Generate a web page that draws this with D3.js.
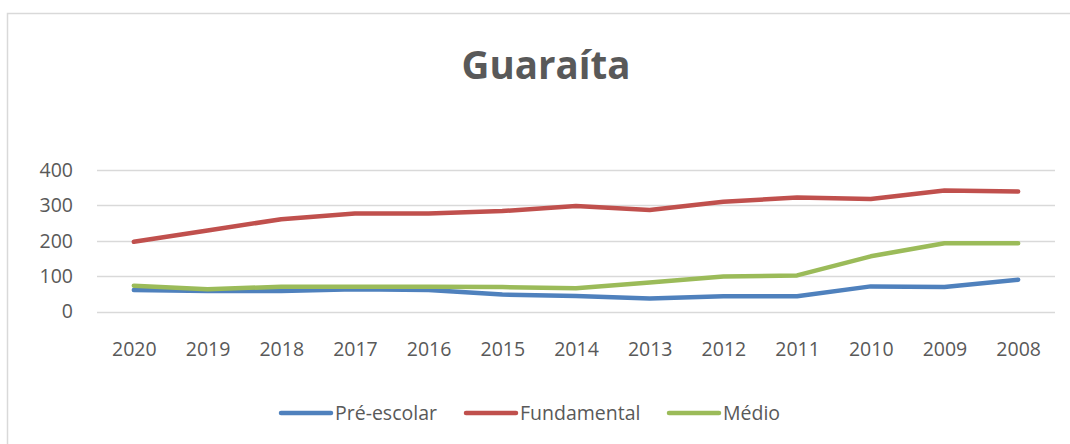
<!DOCTYPE html>
<html>
<head>
<meta charset="utf-8">
<script src="https://cdn.jsdelivr.net/npm/d3@7"></script>
<style>
  body { margin: 0; background: #fff; }
  svg { display: block; font-family: "Open Sans", sans-serif; }
</style>
</head>
<body>
<div id="chart"></div>
<script>
const years = ['2020', '2019', '2018', '2017', '2016', '2015', '2014', '2013', '2012', '2011', '2010', '2009', '2008']
const preEscolar = [61, 58, 58, 63, 61, 48, 44, 37, 43, 43, 71, 69, 90]
const fundamental = [197, 229, 261, 277, 277, 284, 298, 287, 310, 322, 318, 342, 339]
const medio = [73, 63, 70, 70, 70, 69, 66, 82, 99, 102, 156, 193, 193]
const yTicks = [0, 100, 200, 300, 400]

const series = [
  { name: 'Pré-escolar', values: preEscolar, color: '#4F81BD' },
  { name: 'Fundamental', values: fundamental, color: '#C0504D' },
  { name: 'Médio', values: medio, color: '#9BBB59' }
]

const width = 1070
const height = 444
const margin = { left: 97, right: 15, top: 170, bottom: 133 }

const svg = d3.select('#chart')
  .append('svg')
  .attr('width', width)
  .attr('height', height)

// chart area border (right and bottom edges fall outside the picture)
svg.append('rect')
  .attr('x', 7.5)
  .attr('y', 13.5)
  .attr('width', 1080)
  .attr('height', 460)
  .attr('fill', '#fff')
  .attr('stroke', '#D9D9D9')
  .attr('stroke-width', 1.5)

svg.append('text')
  .attr('x', 546)
  .attr('y', 79)
  .attr('text-anchor', 'middle')
  .attr('font-size', 38.5)
  .attr('font-weight', 700)
  .attr('fill', '#595959')
  .text('Guaraíta')

let x = d3.scalePoint()
  .domain(years)
  .range([margin.left, width - margin.right])
  .padding(0.5)

let y = d3.scaleLinear()
  .domain([0, 400])
  .range([311.5, 170])

// gridlines
svg.append('g')
  .selectAll('line')
  .data(yTicks)
  .enter().append('line')
  .attr('x1', margin.left)
  .attr('x2', width - margin.right)
  .attr('y1', d => Math.round(y(d)) + 0.5)
  .attr('y2', d => Math.round(y(d)) + 0.5)
  .attr('stroke', '#D9D9D9')
  .attr('stroke-width', 1.5)

let yAxis = svg.append('g')
  .attr('transform', `translate(${margin.left - 24},0)`)
  .call(d3.axisLeft(y).tickValues(yTicks).tickSize(0).tickPadding(0))
yAxis.select('.domain').remove()
yAxis.selectAll('text')
  .attr('font-size', 19.5)
  .attr('font-family', '"Open Sans", sans-serif')
  .attr('fill', '#595959')

let xAxis = svg.append('g')
  .attr('transform', `translate(0,${y(0)})`)
  .call(d3.axisBottom(x).tickSize(0).tickPadding(31))
xAxis.select('.domain').remove()
xAxis.selectAll('text')
  .attr('font-size', 19.5)
  .attr('font-family', '"Open Sans", sans-serif')
  .attr('fill', '#595959')

let line = d3.line()
  .x((d, i) => x(years[i]))
  .y(d => y(d))

svg.append('g')
  .selectAll('path')
  .data(series)
  .enter().append('path')
  .attr('d', d => line(d.values))
  .attr('fill', 'none')
  .attr('stroke', d => d.color)
  .attr('stroke-width', 4.5)
  .attr('stroke-linecap', 'round')
  .attr('stroke-linejoin', 'round')

// legend
const legendX = [281, 466, 669]
let legend = svg.append('g')
  .selectAll('g')
  .data(series)
  .enter().append('g')
  .attr('transform', (d, i) => `translate(${legendX[i]},413)`)

legend.append('line')
  .attr('x1', 0)
  .attr('x2', 50)
  .attr('stroke', d => d.color)
  .attr('stroke-width', 4.5)
  .attr('stroke-linecap', 'round')

legend.append('text')
  .attr('x', 54)
  .attr('y', 7)
  .attr('font-size', 19.5)
  .attr('fill', '#595959')
  .text(d => d.name)
</script>
</body>
</html>
